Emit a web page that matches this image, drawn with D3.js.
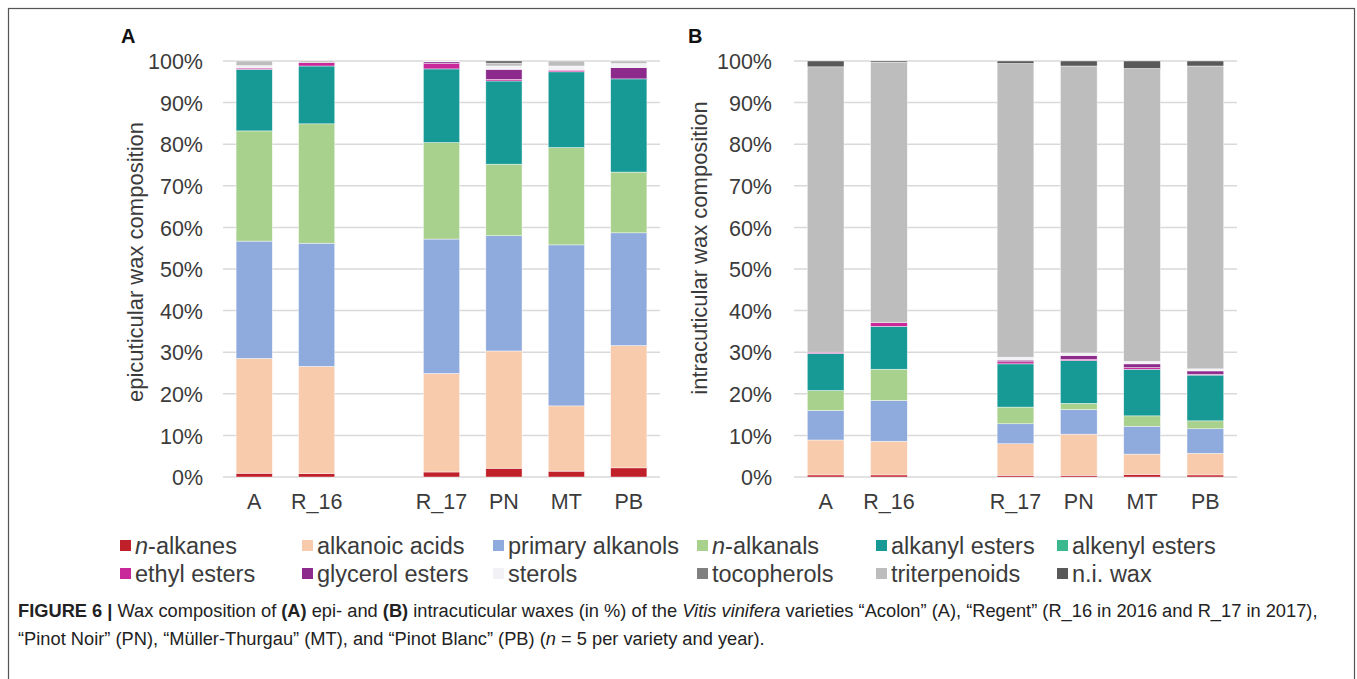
<!DOCTYPE html>
<html>
<head>
<meta charset="utf-8">
<script src="https://cdn.jsdelivr.net/npm/d3@7"></script>
<style>
  html, body { margin: 0; padding: 0; background: #fff; }
  svg { display: block; font-family: "Liberation Sans", Arial, Helvetica, sans-serif; }
</style>
</head>
<body>
<svg id="fig" width="1357" height="679"></svg>
<script>
// Wax classes, stacked from the bottom of each bar upwards
const classes = ["n-alkanes", "alkanoic acids", "primary alkanols", "n-alkanals",
  "alkanyl esters", "alkenyl esters", "ethyl esters", "glycerol esters",
  "sterols", "tocopherols", "triterpenoids", "n.i. wax"];
const classColors = ["#c0202a", "#f8cbad", "#8faadc", "#a9d18e",
  "#179a96", "#3cb88e", "#c8289a", "#8c2b8c",
  "#f2f2f6", "#808080", "#bdbdbd", "#595959"];

// Varieties / years; an empty slot separates the 2016 and 2017 groups
const varieties = ["A", "R_16", "R_17", "PN", "MT", "PB"];
const slots = ["A", "R_16", "gap", "R_17", "PN", "MT", "PB"];
const yTicks = [0, 10, 20, 30, 40, 50, 60, 70, 80, 90, 100];

// Epicuticular wax composition (%), one array per class, in variety order
const epiNAlkanes       = [0.9, 0.8, 1.2, 2.1, 1.4, 2.2];
const epiAlkanoicAcids  = [27.6, 25.8, 23.7, 28.2, 15.7, 29.4];
const epiPrimAlkanols   = [28.2, 29.6, 32.3, 27.7, 38.7, 27.1];
const epiNAlkanals      = [26.5, 28.7, 23.2, 17.2, 23.4, 14.6];
const epiAlkanylEsters  = [14.8, 13.9, 17.7, 20.0, 18.2, 22.4];
const epiAlkenylEsters  = [0, 0, 0, 0, 0, 0];
const epiEthylEsters    = [0.3, 0.8, 1.3, 0.4, 0.4, 0];
const epiGlycerolEsters = [0, 0, 0.4, 2.4, 0, 2.7];
const epiSterols        = [0.6, 0, 0.2, 0.8, 1.0, 1.0];
const epiTocopherols    = [0, 0, 0, 0, 0, 0];
const epiTriterpenoids  = [1.1, 0.4, 0, 0.7, 1.2, 0.6];
const epiNiWax          = [0, 0, 0, 0.5, 0, 0];

// Intracuticular wax composition (%)
const intNAlkanes       = [0.5, 0.5, 0.4, 0.4, 0.6, 0.5];
const intAlkanoicAcids  = [8.4, 8.1, 7.6, 9.9, 4.9, 5.2];
const intPrimAlkanols   = [7.1, 9.8, 4.8, 5.9, 6.7, 5.9];
const intNAlkanals      = [4.8, 7.5, 4.0, 1.5, 2.5, 1.9];
const intAlkanylEsters  = [8.9, 10.3, 10.4, 10.3, 11.2, 11.0];
const intAlkenylEsters  = [0, 0, 0, 0, 0, 0];
const intEthylEsters    = [0.3, 0.9, 0.5, 0.3, 0.4, 0.2];
const intGlycerolEsters = [0, 0, 0.4, 0.9, 0.9, 0.8];
const intSterols        = [0, 0, 0.7, 0.6, 0.6, 0.5];
const intTocopherols    = [0, 0, 0, 0, 0, 0];
const intTriterpenoids  = [68.6, 62.6, 70.6, 69.0, 70.4, 72.8];
const intNiWax          = [1.4, 0.3, 0.6, 1.2, 1.8, 1.2];

const epiSeries = [epiNAlkanes, epiAlkanoicAcids, epiPrimAlkanols, epiNAlkanals,
  epiAlkanylEsters, epiAlkenylEsters, epiEthylEsters, epiGlycerolEsters,
  epiSterols, epiTocopherols, epiTriterpenoids, epiNiWax];
const intSeries = [intNAlkanes, intAlkanoicAcids, intPrimAlkanols, intNAlkanals,
  intAlkanylEsters, intAlkenylEsters, intEthylEsters, intGlycerolEsters,
  intSterols, intTocopherols, intTriterpenoids, intNiWax];

function rows(series) {
  return varieties.map((v, i) => {
    const r = { variety: v };
    classes.forEach((c, k) => { r[c] = series[k][i]; });
    return r;
  });
}

const svg = d3.select("#fig");
const TEXT = "#3b3b3b";

// Outer figure frame
svg.append("rect")
  .attr("x", 8.5).attr("y", 8.5).attr("width", 1346).attr("height", 700)
  .attr("fill", "none").attr("stroke", "#555").attr("stroke-width", 1.2);

function drawPanel(opts) {
  const g = svg.append("g");
  const x = d3.scaleBand().domain(slots).range([opts.x0, opts.x1])
    .paddingInner(0.42).paddingOuter(0.21);
  const y = d3.scaleLinear().domain([0, 100]).range([477, 61]);

  // horizontal gridlines
  g.append("g").selectAll("line").data(yTicks).join("line")
    .attr("x1", opts.x0).attr("x2", opts.x1)
    .attr("y1", d => y(d)).attr("y2", d => y(d))
    .attr("stroke", "#d9d9d9").attr("stroke-width", 1.5);

  // y axis tick labels
  const yAxis = d3.axisLeft(y).tickValues(yTicks).tickFormat(d => d + "%").tickSize(0).tickPadding(0);
  const ya = g.append("g").attr("transform", `translate(${opts.tickRight},0)`).call(yAxis);
  ya.select(".domain").remove();
  ya.selectAll("text").attr("font-size", 21.5).attr("fill", TEXT)
    .attr("font-family", "Liberation Sans, Arial, sans-serif").attr("dy", "0.36em");

  // x axis category labels
  const xAxis = d3.axisBottom(x).tickFormat(d => d === "gap" ? "" : d).tickSize(0).tickPadding(0);
  const xa = g.append("g").attr("transform", "translate(0,494)").call(xAxis);
  xa.select(".domain").remove();
  xa.selectAll("text").attr("font-size", 21.5).attr("fill", TEXT)
    .attr("font-family", "Liberation Sans, Arial, sans-serif").attr("dy", "0.71em");

  // stacked bars
  const stacked = d3.stack().keys(classes)(rows(opts.series));
  g.append("g").selectAll("g").data(stacked).join("g")
    .attr("fill", (d, i) => classColors[i])
    .selectAll("rect").data(d => d.filter(s => s[1] - s[0] > 0)).join("rect")
    .attr("x", d => x(d.data.variety))
    .attr("width", x.bandwidth())
    .attr("y", d => y(d[1]))
    .attr("height", d => y(d[0]) - y(d[1]))
    .attr("stroke", "#ffffff").attr("stroke-width", 0.6).attr("stroke-opacity", 0.7);

  // axis title
  g.append("text")
    .attr("transform", `translate(${opts.titleX},${opts.titleY}) rotate(-90)`)
    .attr("text-anchor", "middle").attr("font-size", 22).attr("fill", TEXT)
    .text(opts.title);

  // panel letter
  g.append("text").attr("x", opts.letterX).attr("y", 43)
    .attr("font-size", 20).attr("font-weight", "bold").attr("fill", "#111")
    .text(opts.letter);
}

drawPanel({ series: epiSeries, x0: 223, x1: 660, tickRight: 203,
  title: "epicuticular wax composition", titleX: 143, titleY: 262, letter: "A", letterX: 121 });
drawPanel({ series: intSeries, x0: 794, x1: 1237, tickRight: 772,
  title: "intracuticular wax composition", titleX: 707, titleY: 248, letter: "B", letterX: 688 });

// Legend, two rows of six entries
const legendCols = [120, 302, 493, 697, 876, 1057];
const legendRows = [554, 582];
const legend = svg.append("g");
classes.forEach((c, i) => {
  const lx = legendCols[i % 6], ly = legendRows[Math.floor(i / 6)];
  legend.append("rect").attr("x", lx).attr("y", ly - 14).attr("width", 11).attr("height", 11)
    .attr("fill", classColors[i]);
  const t = legend.append("text").attr("x", lx + 15).attr("y", ly)
    .attr("font-size", 23.5).attr("fill", TEXT);
  if (c.startsWith("n-")) {
    t.append("tspan").attr("font-style", "italic").text("n");
    t.append("tspan").text(c.slice(1));
  } else {
    t.text(c);
  }
});

// Caption
const cap = svg.append("g").attr("fill", "#222");
function captionLine(y, parts, targetWidth) {
  const t = cap.append("text").attr("x", 18).attr("y", y).attr("font-size", 17);
  parts.forEach(p => {
    const s = t.append("tspan").text(p.t);
    if (p.b) s.attr("font-weight", "bold");
    if (p.i) s.attr("font-style", "italic");
  });
  if (targetWidth) {
    const w = t.node().getComputedTextLength();
    t.attr("font-size", 17 * targetWidth / w);
  }
  return t;
}
const l1 = captionLine(617, [
  { t: "FIGURE 6 | ", b: true },
  { t: "Wax composition of " },
  { t: "(A)", b: true },
  { t: " epi- and " },
  { t: "(B)", b: true },
  { t: " intracuticular waxes (in %) of the " },
  { t: "Vitis vinifera", i: true },
  { t: " varieties \u201cAcolon\u201d (A), \u201cRegent\u201d (R_16 in 2016 and R_17 in 2017)," }
], 1300);
const fs = +l1.attr("font-size");
const l2 = cap.append("text").attr("x", 18).attr("y", 645).attr("font-size", fs);
[
  { t: "\u201cPinot Noir\u201d (PN), \u201cM\u00fcller-Thurgau\u201d (MT), and \u201cPinot Blanc\u201d (PB) (" },
  { t: "n", i: true },
  { t: " = 5 per variety and year)." }
].forEach(p => { const s = l2.append("tspan").text(p.t); if (p.i) s.attr("font-style", "italic"); });
</script>
</body>
</html>
